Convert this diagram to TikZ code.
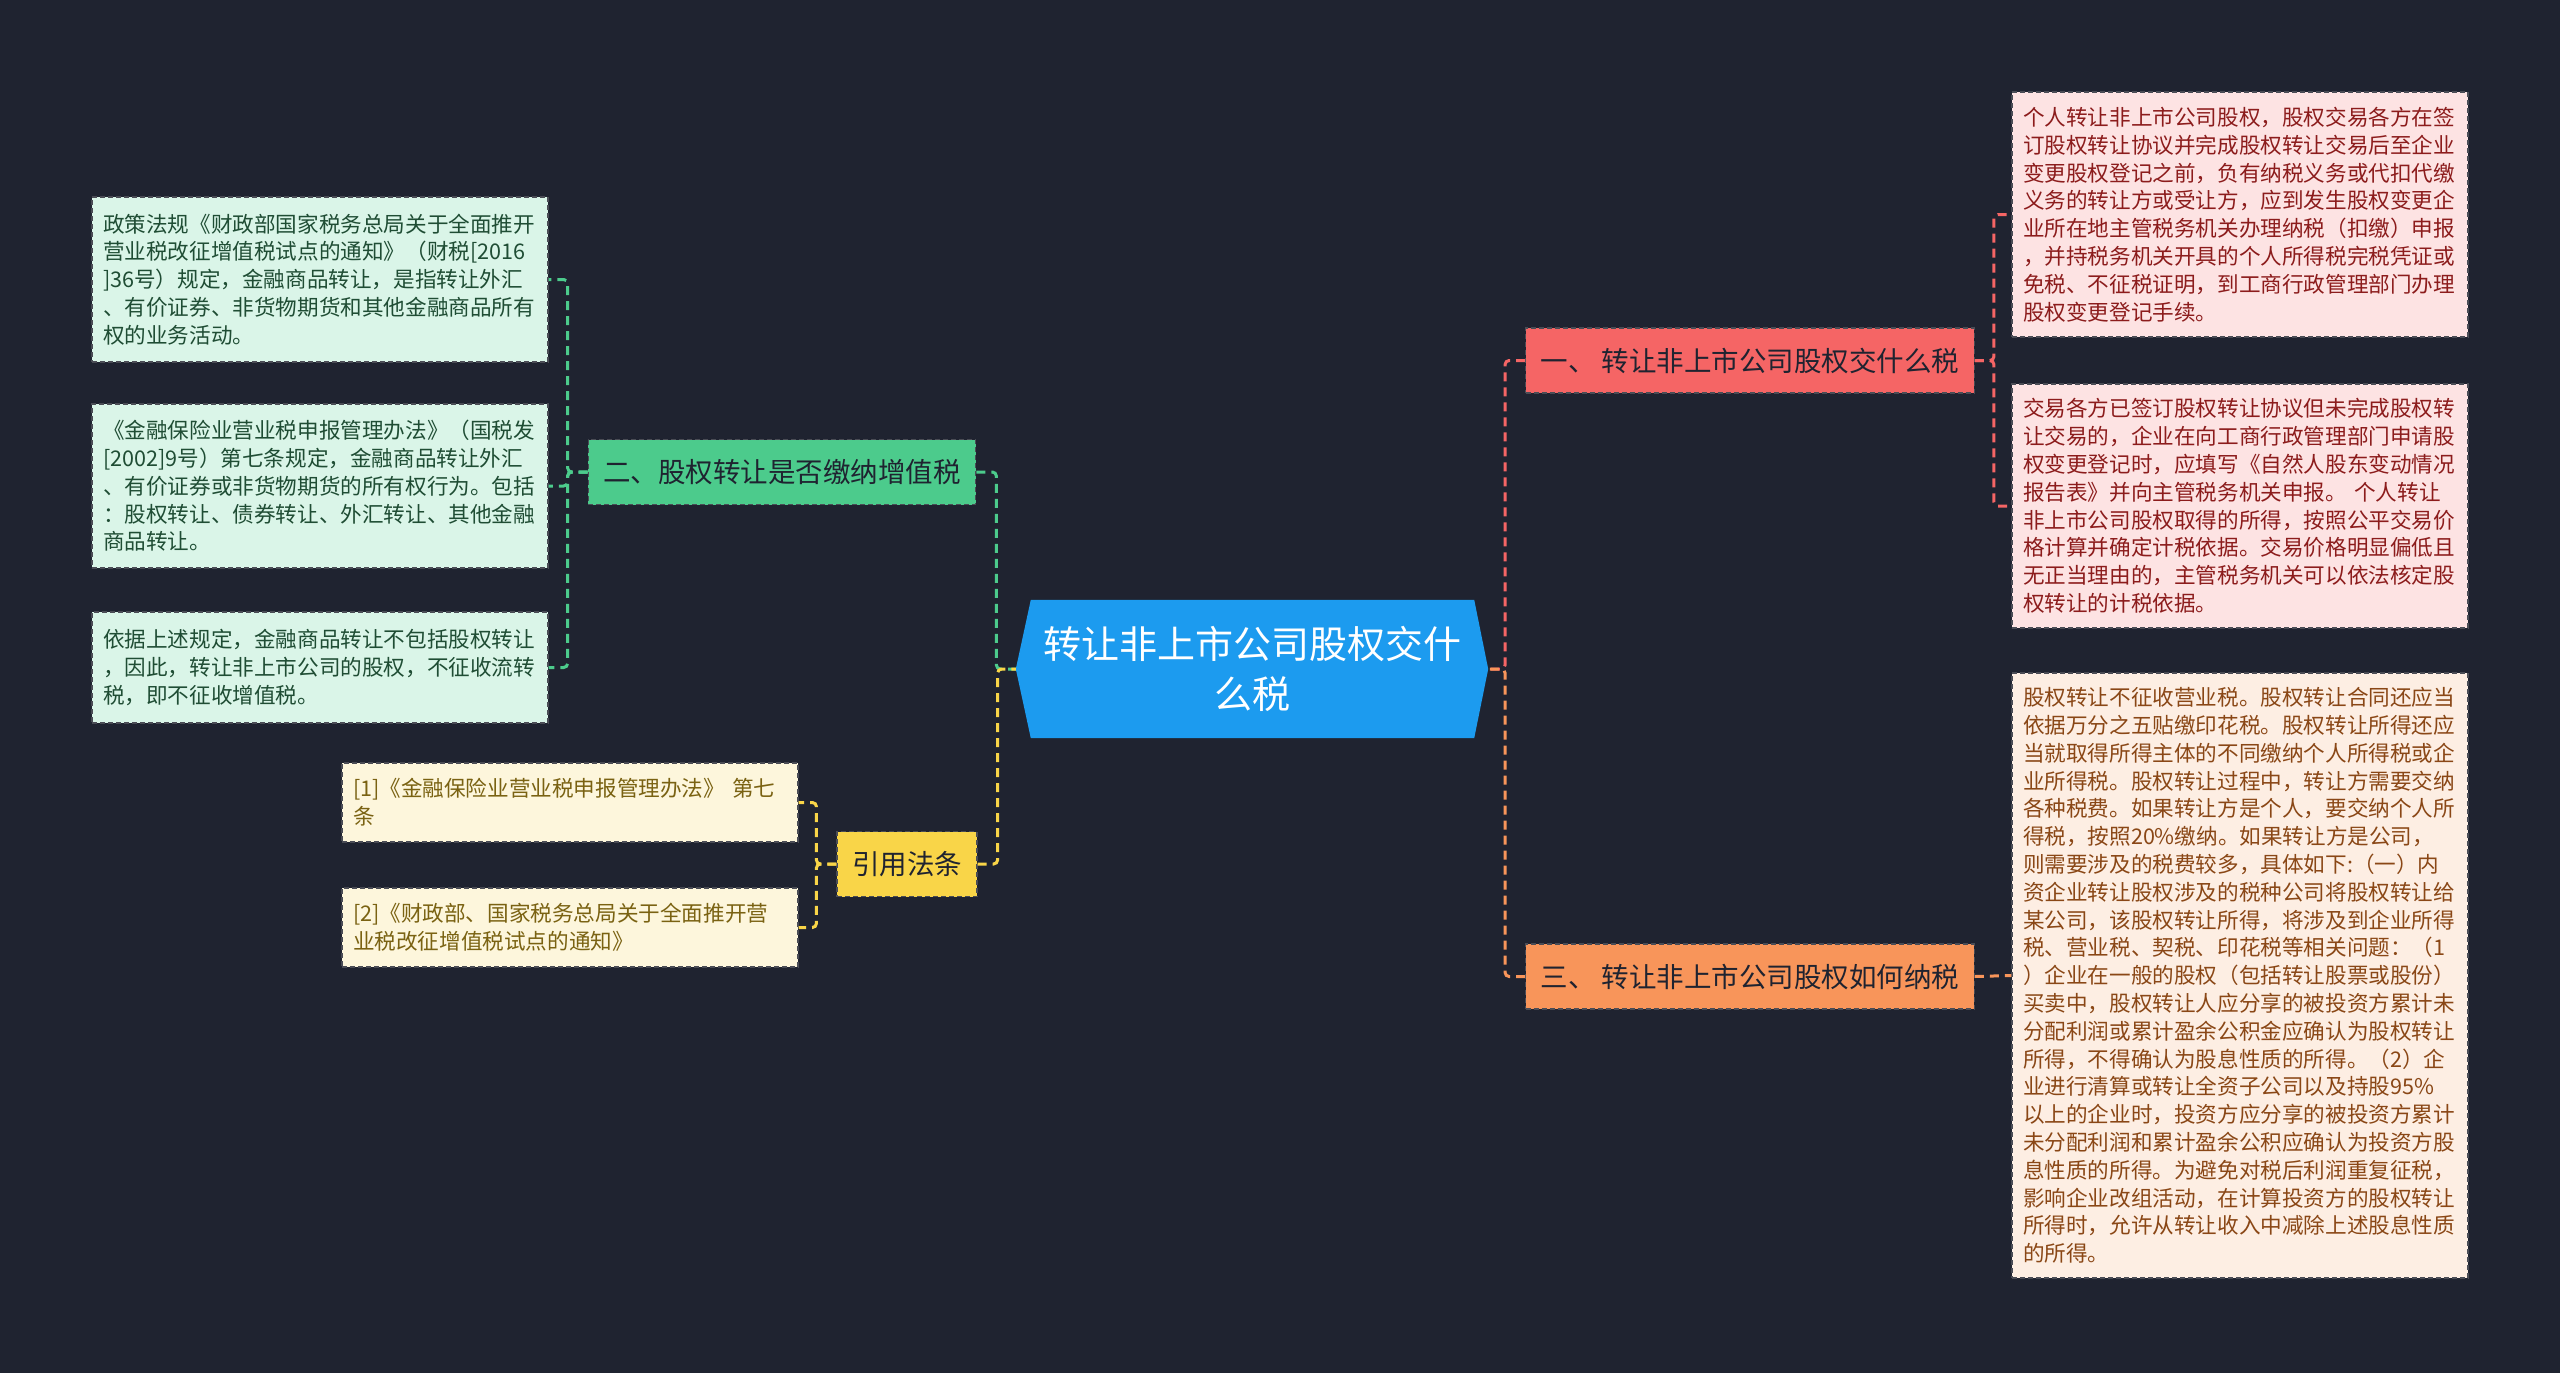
\documentclass[tikz,border=0pt]{standalone}
\usepackage{fontspec}
\newfontfamily\cjk{Noto Sans CJK SC}
\usetikzlibrary{backgrounds,calc}
\definecolor{bgnavy}{HTML}{1F2330}
\definecolor{hubblue}{HTML}{1C9BEF}
\definecolor{boxline}{HTML}{4A4C55}
\definecolor{grnnode}{HTML}{4CCB8C}
\definecolor{grnleaf}{HTML}{DAF5E8}
\definecolor{grntext}{HTML}{1F4D34}
\definecolor{ylwnode}{HTML}{F9D548}
\definecolor{ylwleaf}{HTML}{FDF6DC}
\definecolor{ylwtext}{HTML}{7A6212}
\definecolor{rednode}{HTML}{F56565}
\definecolor{redleaf}{HTML}{FDE3E3}
\definecolor{redtext}{HTML}{8C1C1C}
\definecolor{orgnode}{HTML}{F8955A}
\definecolor{orgleaf}{HTML}{FDEEE3}
\definecolor{orgtext}{HTML}{8A4716}

\begin{document}
\begin{tikzpicture}[x=1pt, y=-1pt,
    hub/.style={minimum width=472pt, minimum height=138pt, align=center, text=white, font=\cjk\fontsize{38}{50}\selectfont},
    branch/.style={draw=boxline, line width=1.2pt, dash pattern=on 5pt off 3pt, minimum height=65pt, inner xsep=15pt, text=bgnavy, font=\cjk\fontsize{27.5}{33}\selectfont},
    leaf/.style={draw=boxline, line width=1.2pt, dash pattern=on 5pt off 3pt, text width=434pt, align=left, inner xsep=11pt, inner ysep=0pt, font=\cjk\fontsize{21.6}{27.8}\selectfont},
    link/.style={line width=3pt, dash pattern=on 9pt off 6pt, rounded corners=4pt}
]
\useasboundingbox (0,0) rectangle (2560,1373);

% centre
\node[hub] (hub) at (1252,669) {转让非上市公司股权交什\\么税};

% left branches
\node[branch, fill=grnnode] (vat) at (782,472) {二、股权转让是否缴纳增值税};
\node[branch, fill=ylwnode] (refs) at (907,864) {引用法条};

\node[leaf, fill=grnleaf, text=grntext, minimum height=165pt] (vat1) at (320,279.5) {政策法规《财政部国家税务总局关于全面推开\\营业税改征增值税试点的通知》（财税[2016\\]36号）规定，金融商品转让，是指转让外汇\\、有价证券、非货物期货和其他金融商品所有\\权的业务活动。};
\node[leaf, fill=grnleaf, text=grntext, minimum height=164pt] (vat2) at (320,486) {《金融保险业营业税申报管理办法》（国税发\\{}[2002]9号）第七条规定，金融商品转让外汇\\、有价证券或非货物期货的所有权行为。包括\\：股权转让、债券转让、外汇转让、其他金融\\商品转让。};
\node[leaf, fill=grnleaf, text=grntext, minimum height=111pt] (vat3) at (320,667.5) {依据上述规定，金融商品转让不包括股权转让\\，因此，转让非上市公司的股权，不征收流转\\税，即不征收增值税。};

\node[leaf, fill=ylwleaf, text=ylwtext, minimum height=79pt] (ref1) at (570,802.5) {[1]《金融保险业营业税申报管理办法》 第七\\条};
\node[leaf, fill=ylwleaf, text=ylwtext, minimum height=79pt] (ref2) at (570,927.5) {[2]《财政部、国家税务总局关于全面推开营\\业税改征增值税试点的通知》};

% right branches
\node[branch, fill=rednode] (kind) at (1750,360.5) {一、 转让非上市公司股权交什么税};
\node[branch, fill=orgnode] (howpay) at (1750,976.5) {三、 转让非上市公司股权如何纳税};

\node[leaf, fill=redleaf, text=redtext, minimum height=245pt] (kind1) at (2240,214.5) {个人转让非上市公司股权，股权交易各方在签\\订股权转让协议并完成股权转让交易后至企业\\变更股权登记之前，负有纳税义务或代扣代缴\\义务的转让方或受让方，应到发生股权变更企\\业所在地主管税务机关办理纳税（扣缴）申报\\，并持税务机关开具的个人所得税完税凭证或\\免税、不征税证明，到工商行政管理部门办理\\股权变更登记手续。};
\node[leaf, fill=redleaf, text=redtext, minimum height=244pt] (kind2) at (2240,506) {交易各方已签订股权转让协议但未完成股权转\\让交易的，企业在向工商行政管理部门申请股\\权变更登记时，应填写《自然人股东变动情况\\报告表》并向主管税务机关申报。 个人转让\\非上市公司股权取得的所得，按照公平交易价\\格计算并确定计税依据。交易价格明显偏低且\\无正当理由的，主管税务机关可以依法核定股\\权转让的计税依据。};
\node[leaf, fill=orgleaf, text=orgtext, minimum height=605pt] (pay1) at (2240,975.5) {股权转让不征收营业税。股权转让合同还应当\\依据万分之五贴缴印花税。股权转让所得还应\\当就取得所得主体的不同缴纳个人所得税或企\\业所得税。股权转让过程中，转让方需要交纳\\各种税费。如果转让方是个人，要交纳个人所\\得税，按照20\%缴纳。如果转让方是公司，\\则需要涉及的税费较多，具体如下:（一）内\\资企业转让股权涉及的税种公司将股权转让给\\某公司，该股权转让所得，将涉及到企业所得\\税、营业税、契税、印花税等相关问题：（1\\）企业在一般的股权（包括转让股票或股份）\\买卖中，股权转让人应分享的被投资方累计未\\分配利润或累计盈余公积金应确认为股权转让\\所得，不得确认为股息性质的所得。（2）企\\业进行清算或转让全资子公司以及持股95\%\\以上的企业时，投资方应分享的被投资方累计\\未分配利润和累计盈余公积应确认为投资方股\\息性质的所得。为避免对税后利润重复征税，\\影响企业改组活动，在计算投资方的股权转让\\所得时，允许从转让收入中减除上述股息性质\\的所得。};

% connectors
\draw[link, grnnode] (vat.east) -- ++(20,0) |- (hub.west);
\draw[link, ylwnode] (refs.east) -- ++(20,0) |- (hub.west);
\draw[link, rednode] (kind.west) -- ++(-20,0) |- (hub.east);
\draw[link, orgnode] (howpay.west) -- ++(-20,0) |- (hub.east);
\foreach \leafname in {vat1,vat2,vat3}
  \draw[link, grnnode] (vat.west) -- ++(-20,0) |- (\leafname.east);
\foreach \leafname in {ref1,ref2}
  \draw[link, ylwnode] (refs.west) -- ++(-20,0) |- (\leafname.east);
\foreach \leafname in {kind1,kind2}
  \draw[link, rednode] (kind.east) -- ++(19,0) |- (\leafname.west);
\draw[link, orgnode] (howpay.east) -- (pay1.west);

\begin{scope}[on background layer]
\fill[bgnavy] (0,0) rectangle (2560,1373);
\fill[hubblue] (hub.west) -- ($(hub.north west)+(15,0)$) -- ($(hub.north east)+(-14,0)$) -- (hub.east)
  -- ($(hub.south east)+(-14,0)$) -- ($(hub.south west)+(15,0)$) -- cycle;
\end{scope}
\end{tikzpicture}
\end{document}
